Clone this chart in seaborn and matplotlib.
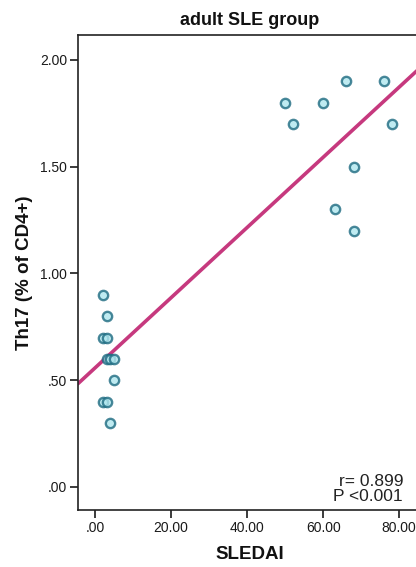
import matplotlib
matplotlib.use("Agg")
import matplotlib.pyplot as plt
import seaborn as sns
import numpy as np
import pandas as pd

# SLEDAI score vs Th17 (% of CD4+) - adult SLE group
sledai = [2, 3, 2, 3, 3, 4, 5, 5, 2, 3, 4,
          50, 52, 60, 66, 76, 78, 68, 63, 68]
th17 = [0.90, 0.80, 0.70, 0.70, 0.60, 0.60, 0.60, 0.50, 0.40, 0.40, 0.30,
        1.80, 1.70, 1.80, 1.90, 1.90, 1.70, 1.50, 1.30, 1.20]
x_ticks = [0, 20, 40, 60, 80]
x_tick_labels = [".00", "20.00", "40.00", "60.00", "80.00"]
y_ticks = [0.0, 0.5, 1.0, 1.5, 2.0]
y_tick_labels = [".00", ".50", "1.00", "1.50", "2.00"]

df = pd.DataFrame({"SLEDAI": sledai, "Th17": th17})

sns.set_style("white")
plt.rcParams["font.family"] = ["Liberation Sans", "DejaVu Sans"]

fig = plt.figure(figsize=(4.16, 5.67), dpi=100)
ax = fig.add_axes([78 / 416, 1 - 510 / 567, 344 / 416, 475 / 567])
ax.set_xlim(-4.5, 86)
ax.set_ylim(-0.108, 2.117)

sns.regplot(data=df, x="SLEDAI", y="Th17", ax=ax, ci=None, truncate=False,
            scatter_kws=dict(s=45, facecolor="#b0e6ee", edgecolor="#1c6a80",
                             linewidths=1.7, zorder=3),
            line_kws=dict(color="#c6397e", lw=2.6, zorder=2))

ax.set_xticks(x_ticks)
ax.set_xticklabels(x_tick_labels)
ax.set_yticks(y_ticks)
ax.set_yticklabels(y_tick_labels)
ax.tick_params(axis="both", direction="out", length=6, width=1.2, pad=2,
               labelsize=10, colors="#1a1a1a", left=True, bottom=True)

for side in ["left", "bottom", "top", "right"]:
    ax.spines[side].set_color("#222222")
    ax.spines[side].set_linewidth(1.2)

ax.set_xlabel("SLEDAI", fontsize=13.5, fontweight="bold", labelpad=8,
              color="#111111")
ax.set_ylabel("Th17 (% of CD4+)", fontsize=13.5, fontweight="bold", labelpad=5,
              color="#111111")
ax.set_title("adult SLE group", fontsize=13, fontweight="bold", pad=7,
             color="#111111")

ax.text(0.945, 0.012, "r= 0.899\nP <0.001", transform=ax.transAxes,
        ha="right", va="bottom", fontsize=12.5, color="#222222", linespacing=1.0)

fig.savefig("out.png", dpi=100)
